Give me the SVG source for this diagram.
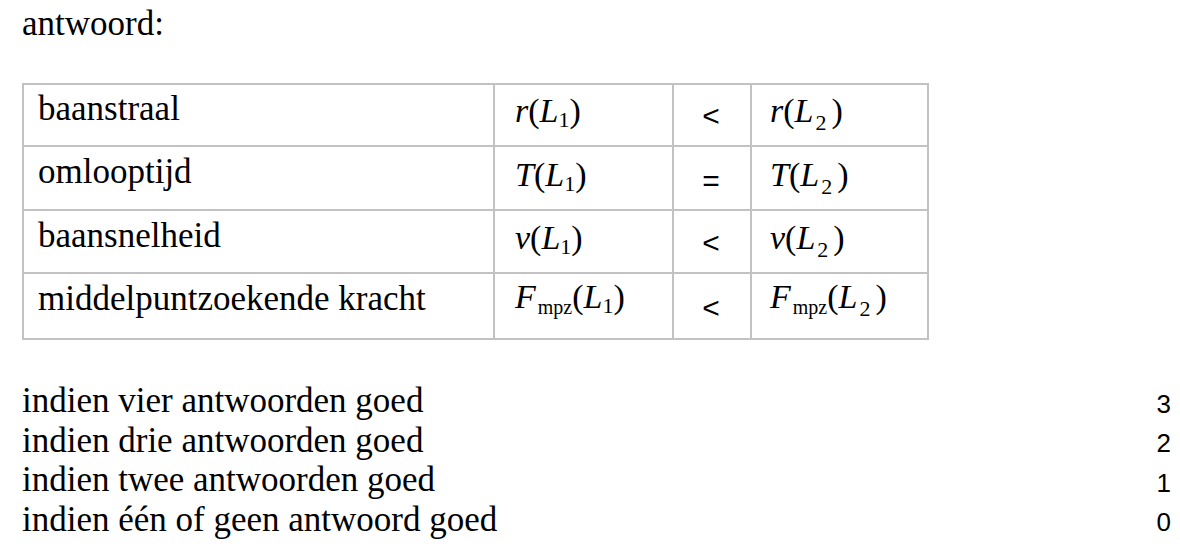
<svg xmlns="http://www.w3.org/2000/svg" width="1180" height="553" viewBox="0 0 1180 553">
<style>
.t{font-family:"Liberation Serif","Times New Roman",serif;font-size:35px;fill:#000}
.m{font-family:"Liberation Serif","Times New Roman",serif;font-size:34px;fill:#000}
.i{font-style:italic}
.s{font-size:22px}
.u{font-size:20px}
.o{font-family:"Liberation Sans",Arial,sans-serif;font-size:30px;fill:#000;text-anchor:middle}
.n{font-family:"Liberation Sans",Arial,sans-serif;font-size:26px;fill:#000;text-anchor:end}
.g{stroke:#c2c2c2;stroke-width:2;fill:none}
</style>
<rect width="1180" height="553" fill="#fff"/>
<text class="t" x="22" y="35" font-size="34">antwoord:</text>
<g id="table">
<rect class="g" x="23" y="84" width="905" height="255"/>
<line class="g" x1="23" y1="146" x2="928" y2="146"/>
<line class="g" x1="23" y1="210" x2="928" y2="210"/>
<line class="g" x1="23" y1="273" x2="928" y2="273"/>
<line class="g" x1="494" y1="84" x2="494" y2="339"/>
<line class="g" x1="673" y1="84" x2="673" y2="339"/>
<line class="g" x1="751" y1="84" x2="751" y2="339"/>
</g>
<g id="row1">
<text class="t" x="38" y="120">baanstraal</text>
<text class="m" x="515" y="122"><tspan class="i">r</tspan>(<tspan class="i">L</tspan><tspan class="s" dy="5">1</tspan><tspan dy="-5">)</tspan></text>
<text class="o" x="711" y="126">&lt;</text>
<text class="m" x="770" y="122"><tspan class="i">r</tspan>(<tspan class="i">L</tspan><tspan class="s" dy="8" dx="2">2</tspan><tspan dy="-8" dx="5">)</tspan></text>
</g>
<g id="row2">
<text class="t" x="38" y="183">omlooptijd</text>
<text class="m" x="515" y="186"><tspan class="i">T</tspan>(<tspan class="i">L</tspan><tspan class="s" dy="5">1</tspan><tspan dy="-5">)</tspan></text>
<text class="o" x="711" y="191">=</text>
<text class="m" x="770" y="186"><tspan class="i">T</tspan>(<tspan class="i">L</tspan><tspan class="s" dy="8" dx="2">2</tspan><tspan dy="-8" dx="5">)</tspan></text>
</g>
<g id="row3">
<text class="t" x="38" y="247">baansnelheid</text>
<text class="m" x="515" y="249"><tspan class="i">v</tspan>(<tspan class="i">L</tspan><tspan class="s" dy="5">1</tspan><tspan dy="-5">)</tspan></text>
<text class="o" x="711" y="253">&lt;</text>
<text class="m" x="770" y="249"><tspan class="i">v</tspan>(<tspan class="i">L</tspan><tspan class="s" dy="8" dx="2">2</tspan><tspan dy="-8" dx="5">)</tspan></text>
</g>
<g id="row4">
<text class="t" x="38" y="310">middelpuntzoekende kracht</text>
<text class="m" x="515" y="308"><tspan class="i">F</tspan><tspan class="u" dy="6" dx="2">mpz</tspan><tspan dy="-6">(</tspan><tspan class="i">L</tspan><tspan class="s" dy="5">1</tspan><tspan dy="-5">)</tspan></text>
<text class="o" x="711" y="318">&lt;</text>
<text class="m" x="770" y="308"><tspan class="i">F</tspan><tspan class="u" dy="6" dx="2">mpz</tspan><tspan dy="-6">(</tspan><tspan class="i">L</tspan><tspan class="s" dy="8" dx="2">2</tspan><tspan dy="-8" dx="5">)</tspan></text>
</g>
<g id="scores">
<text class="t" x="22" y="412">indien vier antwoorden goed</text>
<text class="t" x="22" y="452">indien drie antwoorden goed</text>
<text class="t" x="22" y="491">indien twee antwoorden goed</text>
<text class="t" x="22" y="531">indien één of geen antwoord goed</text>
<text class="n" x="1171" y="413">3</text>
<text class="n" x="1171" y="452">2</text>
<text class="n" x="1171" y="492">1</text>
<text class="n" x="1171" y="531">0</text>
</g>
</svg>
